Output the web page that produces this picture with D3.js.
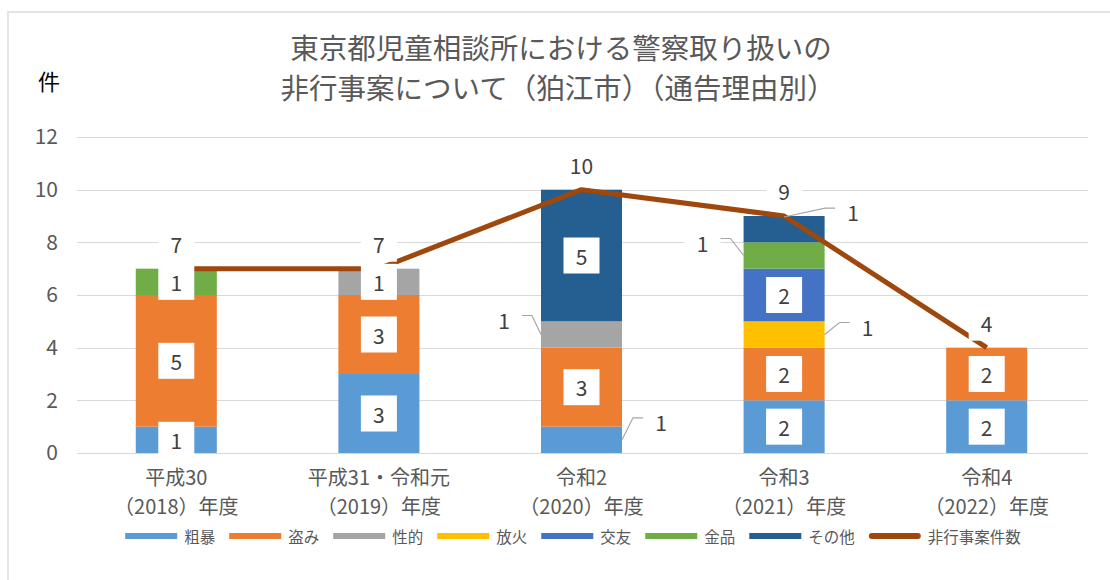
<!DOCTYPE html>
<html>
  <head>
    <meta charset="utf-8">
    <script src="https://d3js.org/d3.v7.min.js"></script>
    <style>
      body { margin: 0; background: #fff; }
      svg text { font-family: "Noto Sans CJK JP", "Noto Sans", sans-serif; }
      .grid line { stroke: #d9d9d9; stroke-width: 1; shape-rendering: crispEdges; }
    </style>
  </head>
  <body>
    <script>
      // category labels (two lines each)
      var yearNames = ["平成30", "平成31・令和元", "令和2", "令和3", "令和4"];
      var yearSpans = ["（2018）年度", "（2019）年度", "（2020）年度", "（2021）年度", "（2022）年度"];

      // series values, one array per reason
      var violence    = [1, 3, 1, 2, 2];   // 粗暴
      var theft       = [5, 3, 3, 2, 2];   // 盗み
      var sexual      = [0, 1, 1, 0, 0];   // 性的
      var arson       = [0, 0, 0, 1, 0];   // 放火
      var association = [0, 0, 0, 2, 0];   // 交友
      var money       = [1, 0, 0, 1, 0];   // 金品
      var other       = [0, 0, 5, 1, 0];   // その他
      var totals      = [7, 7, 10, 9, 4];  // 非行事案件数

      var seriesNames = ["粗暴", "盗み", "性的", "放火", "交友", "金品", "その他"];
      var seriesValues = [violence, theft, sexual, arson, association, money, other];
      var lineName = "非行事案件数";
      var yTicks = [0, 2, 4, 6, 8, 10, 12];

      var colors = ["#5b9bd5", "#ed7d31", "#a5a5a5", "#ffc000", "#4472c4", "#70ad47", "#255e91"];
      var lineColor = "#9e480e";

      // labels that sit outside the bar with a leader line (layout only)
      var outsideLabels = {
        "性的|2": { side: "left", dx: -37, dy: -15 },
        "粗暴|2": { side: "right", dx: 39, dy: -18 },
        "金品|3": { side: "left", dx: -41, dy: -13 },
        "放火|3": { side: "right", dx: 43, dy: -8 },
        "その他|3": { side: "top", dx: 69, dy: -17 }
      };

      var width = 1110, height = 580;
      var svg = d3.select("body").append("svg")
        .attr("width", width)
        .attr("height", height);

      // chart frame
      svg.append("rect")
        .attr("x", 8).attr("y", 12)
        .attr("width", 1200).attr("height", 700)
        .attr("fill", "none")
        .attr("stroke", "#e3e3e3")
        .attr("stroke-width", 2);

      // table for d3.stack
      var table = yearNames.map(function (name, i) {
        var row = { index: i };
        seriesNames.forEach(function (s, j) { row[s] = seriesValues[j][i]; });
        return row;
      });

      var x = d3.scaleBand()
        .domain(d3.range(yearNames.length))
        .range([75, 1088])
        .paddingInner(0.6)
        .paddingOuter(0.3);

      var y = d3.scaleLinear()
        .domain([0, 12])
        .range([453, 137]);

      // gridlines
      var grid = svg.append("g").attr("class", "grid");
      grid.selectAll("line")
        .data(yTicks)
        .enter().append("line")
        .attr("x1", 77).attr("x2", 1088)
        .attr("y1", function (d) { return Math.round(y(d)) + 0.5; })
        .attr("y2", function (d) { return Math.round(y(d)) + 0.5; });

      // y axis labels
      var yAxisGroup = svg.append("g").attr("transform", "translate(70,0)");
      var yAxis = d3.axisLeft(y).tickValues(yTicks).tickSize(0).tickPadding(12);
      yAxis(yAxisGroup);
      yAxisGroup.select(".domain").remove();
      yAxisGroup.selectAll("text")
        .attr("font-size", "21px")
        .attr("fill", "#595959")
        .style("font-family", "'Noto Sans CJK JP', sans-serif");

      // unit label
      svg.append("text")
        .attr("x", 49).attr("y", 80)
        .attr("text-anchor", "middle")
        .attr("dominant-baseline", "central")
        .attr("font-size", "22px")
        .attr("fill", "#000")
        .text("件");

      // title
      var title = svg.append("text")
        .attr("text-anchor", "middle")
        .attr("font-size", "28.5px")
        .attr("fill", "#595959");
      title.append("tspan").attr("x", 561).attr("y", 59).text("東京都児童相談所における警察取り扱いの");
      title.append("tspan").attr("x", 558).attr("y", 99).text("非行事案について（狛江市）（通告理由別）");

      // stacked bars
      var stacked = d3.stack().keys(seriesNames)(table);
      var barGroup = svg.append("g");
      stacked.forEach(function (layer, j) {
        barGroup.append("g")
          .attr("fill", colors[j])
          .selectAll("rect")
          .data(layer.filter(function (d) { return d[1] > d[0]; }))
          .enter().append("rect")
          .attr("x", function (d) { return x(d.data.index); })
          .attr("width", x.bandwidth())
          .attr("y", function (d) { return y(d[1]); })
          .attr("height", function (d) { return y(d[0]) - y(d[1]); });
      });

      // total line
      var line = d3.line()
        .x(function (d, i) { return x(i) + x.bandwidth() / 2; })
        .y(function (d) { return y(d); });
      svg.append("path")
        .datum(totals)
        .attr("fill", "none")
        .attr("stroke", lineColor)
        .attr("stroke-width", 5)
        .attr("stroke-linejoin", "round")
        .attr("d", line);

      // data labels
      var labelGroup = svg.append("g");
      function boxLabel(cx, cy, txt) {
        var w = txt.length > 1 ? 46 : 36;
        labelGroup.append("rect")
          .attr("x", cx - w / 2).attr("y", cy - 18)
          .attr("width", w).attr("height", 36)
          .attr("fill", "#fff");
        labelGroup.append("text")
          .attr("x", cx).attr("y", cy)
          .attr("text-anchor", "middle")
          .attr("dominant-baseline", "central")
          .attr("font-size", "21px")
          .attr("fill", "#404040")
          .text(txt);
      }

      var leaderGroup = svg.append("g")
        .attr("fill", "none")
        .attr("stroke", "#a6a6a6")
        .attr("stroke-width", 1.2);

      stacked.forEach(function (layer, j) {
        layer.forEach(function (d) {
          var v = d[1] - d[0];
          if (v <= 0) return;
          var i = d.data.index;
          var left = x(i), right = x(i) + x.bandwidth(), mid = left + x.bandwidth() / 2;
          var cy = y((d[0] + d[1]) / 2);
          var o = outsideLabels[seriesNames[j] + "|" + i];
          if (!o) {
            boxLabel(mid, cy, String(v));
            return;
          }
          var ax, ay, tx, ty, s;
          if (o.side === "left") { ax = left; ay = cy; tx = left + o.dx; s = 1; }
          else if (o.side === "right") { ax = right; ay = cy; tx = right + o.dx; s = -1; }
          else { ax = mid; ay = y(d[1]) + 1; tx = mid + o.dx; s = -1; }
          ty = cy + o.dy;
          leaderGroup.append("path")
            .attr("d", d3.line()([[ax, ay], [tx + s * 28, ty - 4], [tx + s * 18, ty - 4]]));
          boxLabel(tx, ty, String(v));
        });
      });

      totals.forEach(function (t, i) {
        boxLabel(x(i) + x.bandwidth() / 2, y(t) - 25, String(t));
      });

      // category labels
      var catGroup = svg.append("g")
        .attr("font-size", "20px")
        .attr("fill", "#595959")
        .attr("text-anchor", "middle");
      yearNames.forEach(function (name, i) {
        var cx = x(i) + x.bandwidth() / 2;
        catGroup.append("text").attr("x", cx).attr("y", 485).text(name);
        catGroup.append("text").attr("x", cx).attr("y", 514).text(yearSpans[i]);
      });

      // legend
      var legend = svg.append("g");
      var items = seriesNames.map(function (s, j) { return { name: s, color: colors[j], line: false }; });
      items.push({ name: lineName, color: lineColor, line: true });
      var lx = 0;
      var legendInner = legend.append("g");
      items.forEach(function (it) {
        var g = legendInner.append("g").attr("transform", "translate(" + lx + ",0)");
        if (it.line) {
          g.append("line")
            .attr("x1", 3).attr("x2", 49).attr("y1", 0).attr("y2", 0)
            .attr("stroke", it.color).attr("stroke-width", 6)
            .attr("stroke-linecap", "round");
        } else {
          g.append("rect")
            .attr("x", 0).attr("y", -3)
            .attr("width", 52).attr("height", 6)
            .attr("fill", it.color);
        }
        var t = g.append("text")
          .attr("x", 59).attr("y", 0)
          .attr("dominant-baseline", "central")
          .attr("font-size", "15.5px")
          .attr("fill", "#595959")
          .text(it.name);
        lx += 59 + t.node().getComputedTextLength() + 14;
      });
      lx -= 14;
      legendInner.attr("transform", "translate(" + (573 - lx / 2) + ",536)");
    </script>
  </body>
</html>
